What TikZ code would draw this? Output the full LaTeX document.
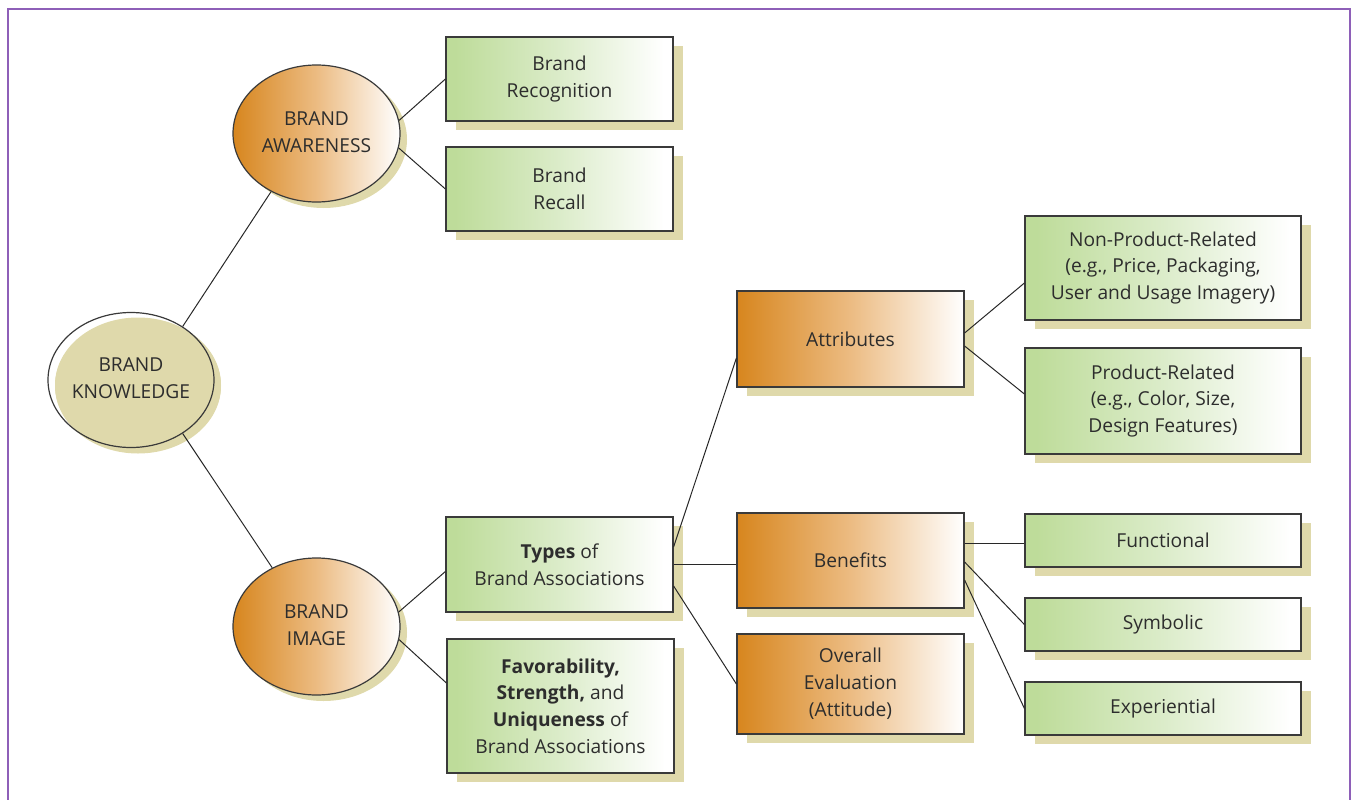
\documentclass[tikz,border=0pt]{standalone}
\usepackage{fontspec}
\setmainfont{Open Sans}
\usetikzlibrary{shapes.geometric,shadows,calc}

\definecolor{shadowtan}{RGB}{223,217,171}
\definecolor{boxline}{RGB}{58,58,58}
\definecolor{linkcol}{RGB}{40,40,40}
\definecolor{txt}{RGB}{45,45,45}
\definecolor{framecol}{RGB}{142,95,184}

% left-to-right fades used for the boxes and ovals
\pgfdeclarehorizontalshading{greenfade}{100bp}{rgb(0bp)=(0.745,0.863,0.604); rgb(27bp)=(0.745,0.863,0.604); rgb(50bp)=(0.86,0.925,0.79); rgb(73bp)=(1,1,1); rgb(100bp)=(1,1,1)}
\pgfdeclarehorizontalshading{orangefade}{100bp}{rgb(0bp)=(0.843,0.525,0.118); rgb(25bp)=(0.843,0.525,0.118); rgb(50bp)=(0.925,0.735,0.51); rgb(75bp)=(1,1,1); rgb(100bp)=(1,1,1)}

\newcommand{\ovaltext}[2]{\makebox[0pt]{\begin{tabular}{@{}c@{}}#1\\#2\end{tabular}}}

\begin{document}
\begin{tikzpicture}[x=1pt,y=-1pt,
  every node/.style={font=\fontsize{19.2}{26.8}\selectfont, text=txt},
  box/.style={rectangle, draw=boxline, line width=1.2pt, inner sep=4pt, align=center,
    drop shadow={shadow xshift=10pt, shadow yshift=-9pt, fill=shadowtan, opacity=1}},
  gbox/.style={box, shade, shading=greenfade},
  obox/.style={box, shade, shading=orangefade},
  oval/.style={ellipse, draw=boxline, line width=1.2pt, inner sep=0pt,
    drop shadow={shadow xshift=7pt, shadow yshift=-6pt, fill=shadowtan, opacity=1}},
  wide/.style={minimum width=227pt},
  wider/.style={minimum width=276pt},
  link/.style={draw=linkcol, line width=1pt},
  frame/.style={draw=framecol, line width=2pt}]

\useasboundingbox (0,0) rectangle (1354,800);
\draw[frame] (8,800) -- (8,9) -- (1350,9) -- (1350,800);

% ovals
\node[oval, minimum width=166pt, minimum height=135pt,
  drop shadow={shadow xshift=7pt, shadow yshift=-5pt, fill=shadowtan, opacity=1}]
  (bk) at (131,380) {\ovaltext{BRAND}{KNOWLEDGE}};
\node[oval, shade, shading=orangefade, minimum width=167pt, minimum height=137pt]
  (ba) at (316.5,133.5) {\raisebox{-2pt}{\ovaltext{BRAND}{AWARENESS}}};
\node[oval, shade, shading=orangefade, minimum width=167pt, minimum height=137pt]
  (bi) at (316.5,626.5) {\ovaltext{BRAND}{IMAGE}};

% second column
\node[gbox, wide, minimum height=84pt] (rec) at (559.5,79) {Brand\\Recognition};
\node[gbox, wide, minimum height=84pt] (recall) at (559.5,189) {Brand\\Recall};
\node[gbox, wide, minimum height=95pt] (types) at (559.5,564.5) {\textbf{Types} of\\Brand Associations};
\node[gbox, wide, minimum height=134pt] (fav) at (560.5,706)
  {\textbf{Favorability,}\\\textbf{Strength,} and\\\textbf{Uniqueness} of\\Brand Associations};

% third column
\node[obox, wide, minimum height=96pt] (attr) at (850.5,339) {Attributes};
\node[obox, wide, minimum height=95pt] (ben) at (850.5,560.5) {Benefits};
\node[obox, wide, minimum height=100pt] (overall) at (850.5,684) {Overall\\Evaluation\\(Attitude)};

% fourth column
\node[gbox, wider, minimum height=104pt] (nonprod) at (1163,268)
  {Non-Product-Related\\(e.g., Price, Packaging,\\User and Usage Imagery)};
\node[gbox, wider, minimum height=106pt] (prod) at (1163,401)
  {Product-Related\\(e.g., Color, Size,\\Design Features)};
\node[gbox, wider, minimum height=53pt] (func) at (1163,540.5) {Functional};
\node[gbox, wider, minimum height=53pt] (sym) at (1163,624.5) {Symbolic};
\node[gbox, wider, minimum height=53pt] (exp) at (1163,708.5) {Experiential};

% connectors
\draw[link] (bk.46) -- (ba.232);
\draw[link] (bk.-46) -- (bi.127);
\draw[link] (ba.9) -- (rec.west);
\draw[link] (ba.-10) -- (recall.west);
\draw[link] (bi.10) -- ([yshift=-7pt]types.west);
\draw[link] (bi.-9) -- ([yshift=23pt]fav.west);
\draw[link] ([yshift=17.5pt]types.east) -- ([yshift=-19pt]attr.west);
\draw[link] (types.east) -- (types.east -| ben.west);
\draw[link] ([yshift=-21.5pt]types.east) -- (overall.west);
\draw[link] ([yshift=6pt]attr.east) -- ([yshift=-15pt]nonprod.west);
\draw[link] ([yshift=-7pt]attr.east) -- ([yshift=7pt]prod.west);
\draw[link] ([yshift=17.5pt]ben.east) -- ([yshift=17.5pt]ben.east -| func.west);
\draw[link] ([yshift=-1.5pt]ben.east) -- (sym.west);
\draw[link] ([yshift=-19.5pt]ben.east) -- (exp.west);
\end{tikzpicture}
\end{document}
